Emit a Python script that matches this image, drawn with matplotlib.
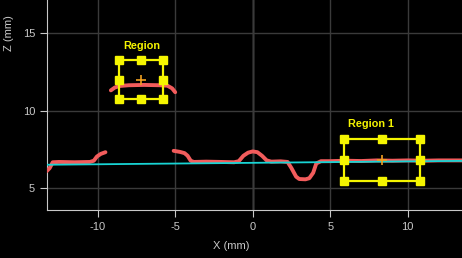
import numpy as np
import matplotlib
matplotlib.use("Agg")
import matplotlib.pyplot as plt

plt.rcParams['font.family'] = ['Liberation Sans', 'DejaVu Sans']
plt.rcParams['axes.unicode_minus'] = False

# profil mesuré (trois morceaux)
seg1_x = [-13.3, -13.1, -12.9, -12.5, -11.5, -10.5, -10.25, -10.05, -9.8, -9.5]
seg1_z = [6.1, 6.3, 6.68, 6.7, 6.68, 6.7, 6.78, 7.05, 7.22, 7.33]

seg2_x = [-9.15, -8.9, -8.6, -8.0, -7.0, -6.0, -5.5, -5.2, -5.0]
seg2_z = [11.32, 11.5, 11.6, 11.65, 11.67, 11.65, 11.62, 11.45, 11.2]

seg3_x = [-5.1, -4.7, -4.4, -4.2, -4.0, -3.8, -3.0, -2.0, -1.2, -0.9, -0.6, -0.3,
          0.0, 0.3, 0.6, 0.9, 1.2, 1.8, 2.25, 2.5, 2.8, 3.0, 3.4, 3.65, 3.9, 4.1,
          4.4, 5.0, 6.0, 7.0, 8.0, 9.0, 10.0, 11.0, 12.0, 13.5]
seg3_z = [7.42, 7.35, 7.27, 7.1, 6.78, 6.7, 6.72, 6.7, 6.68, 6.75, 7.1, 7.3,
          7.38, 7.33, 7.1, 6.8, 6.72, 6.74, 6.7, 6.3, 5.75, 5.6, 5.58, 5.65, 6.0, 6.6,
          6.75, 6.75, 6.78, 6.76, 6.8, 6.78, 6.8, 6.78, 6.8, 6.8]

# droite de référence
ref_x = [-13.3, 13.5]
ref_z = [6.52, 6.77]

# régions (xmin, xmax, zmin, zmax)
regions = ["Region", "Region 1"]
reg_x0 = [-8.6, 5.87]
reg_x1 = [-5.79, 10.81]
reg_z0 = [10.75, 5.5]
reg_z1 = [13.29, 8.17]
label_x = [-7.15, 7.6]
label_z = [14.2, 9.15]

fig = plt.figure(figsize=(4.62, 2.58), dpi=100, facecolor='black')
ax = fig.add_axes([47/462, 48/258, 415/462, 210/258], facecolor='black')

ax.set_xlim(-13.27, 13.5)
ax.set_ylim(3.6, 17.15)
ax.set_xticks([-10, -5, 0, 5, 10])
ax.set_yticks([5, 10, 15])
ax.grid(True, color='#3a3a3a', lw=1)
ax.axvline(0, color='#8a8a8a', lw=1, zorder=1)

for s in ['top', 'right']:
    ax.spines[s].set_visible(False)
for s in ['left', 'bottom']:
    ax.spines[s].set_color('#c8c8c8')
ax.tick_params(colors='#c8c8c8', labelsize=8, length=5)

ax.set_xlabel('X (mm)', color='#c8c8c8', fontsize=8)
ax.set_ylabel('Z (mm)', color='#c8c8c8', fontsize=8)
ax.xaxis.set_label_coords((231 - 47) / 415, -31 / 210)
ax.yaxis.set_label_coords(-33 / 415, (210 - 33) / 210)

rouge = '#f25c5c'
for sx, sz in [(seg1_x, seg1_z), (seg2_x, seg2_z), (seg3_x, seg3_z)]:
    ax.plot(sx, sz, color=rouge, lw=2.8, solid_capstyle='round', zorder=3)
ax.plot(ref_x, ref_z, color='#18d4d4', lw=1.3, zorder=4)

jaune = '#f5f500'
for i in range(len(regions)):
    x0, x1, z0, z1 = reg_x0[i], reg_x1[i], reg_z0[i], reg_z1[i]
    xm, zm = (x0 + x1) / 2, (z0 + z1) / 2
    ax.plot([x0, x1, x1, x0, x0], [z0, z0, z1, z1, z0], color=jaune, lw=1.6, zorder=5)
    hx = [x0, xm, x1, x0, x1, x0, xm, x1]
    hz = [z1, z1, z1, zm, zm, z0, z0, z0]
    ax.plot(hx, hz, 's', color=jaune, ms=5.5, zorder=6)
    ax.plot(xm, zm, '+', color='#f0a020', ms=7, mew=1.2, zorder=6)
    ax.text(label_x[i], label_z[i], regions[i], color=jaune, fontsize=7.8,
            fontweight='bold', ha='center', va='center', zorder=6)

fig.savefig('out.png', dpi=100, facecolor='black')
